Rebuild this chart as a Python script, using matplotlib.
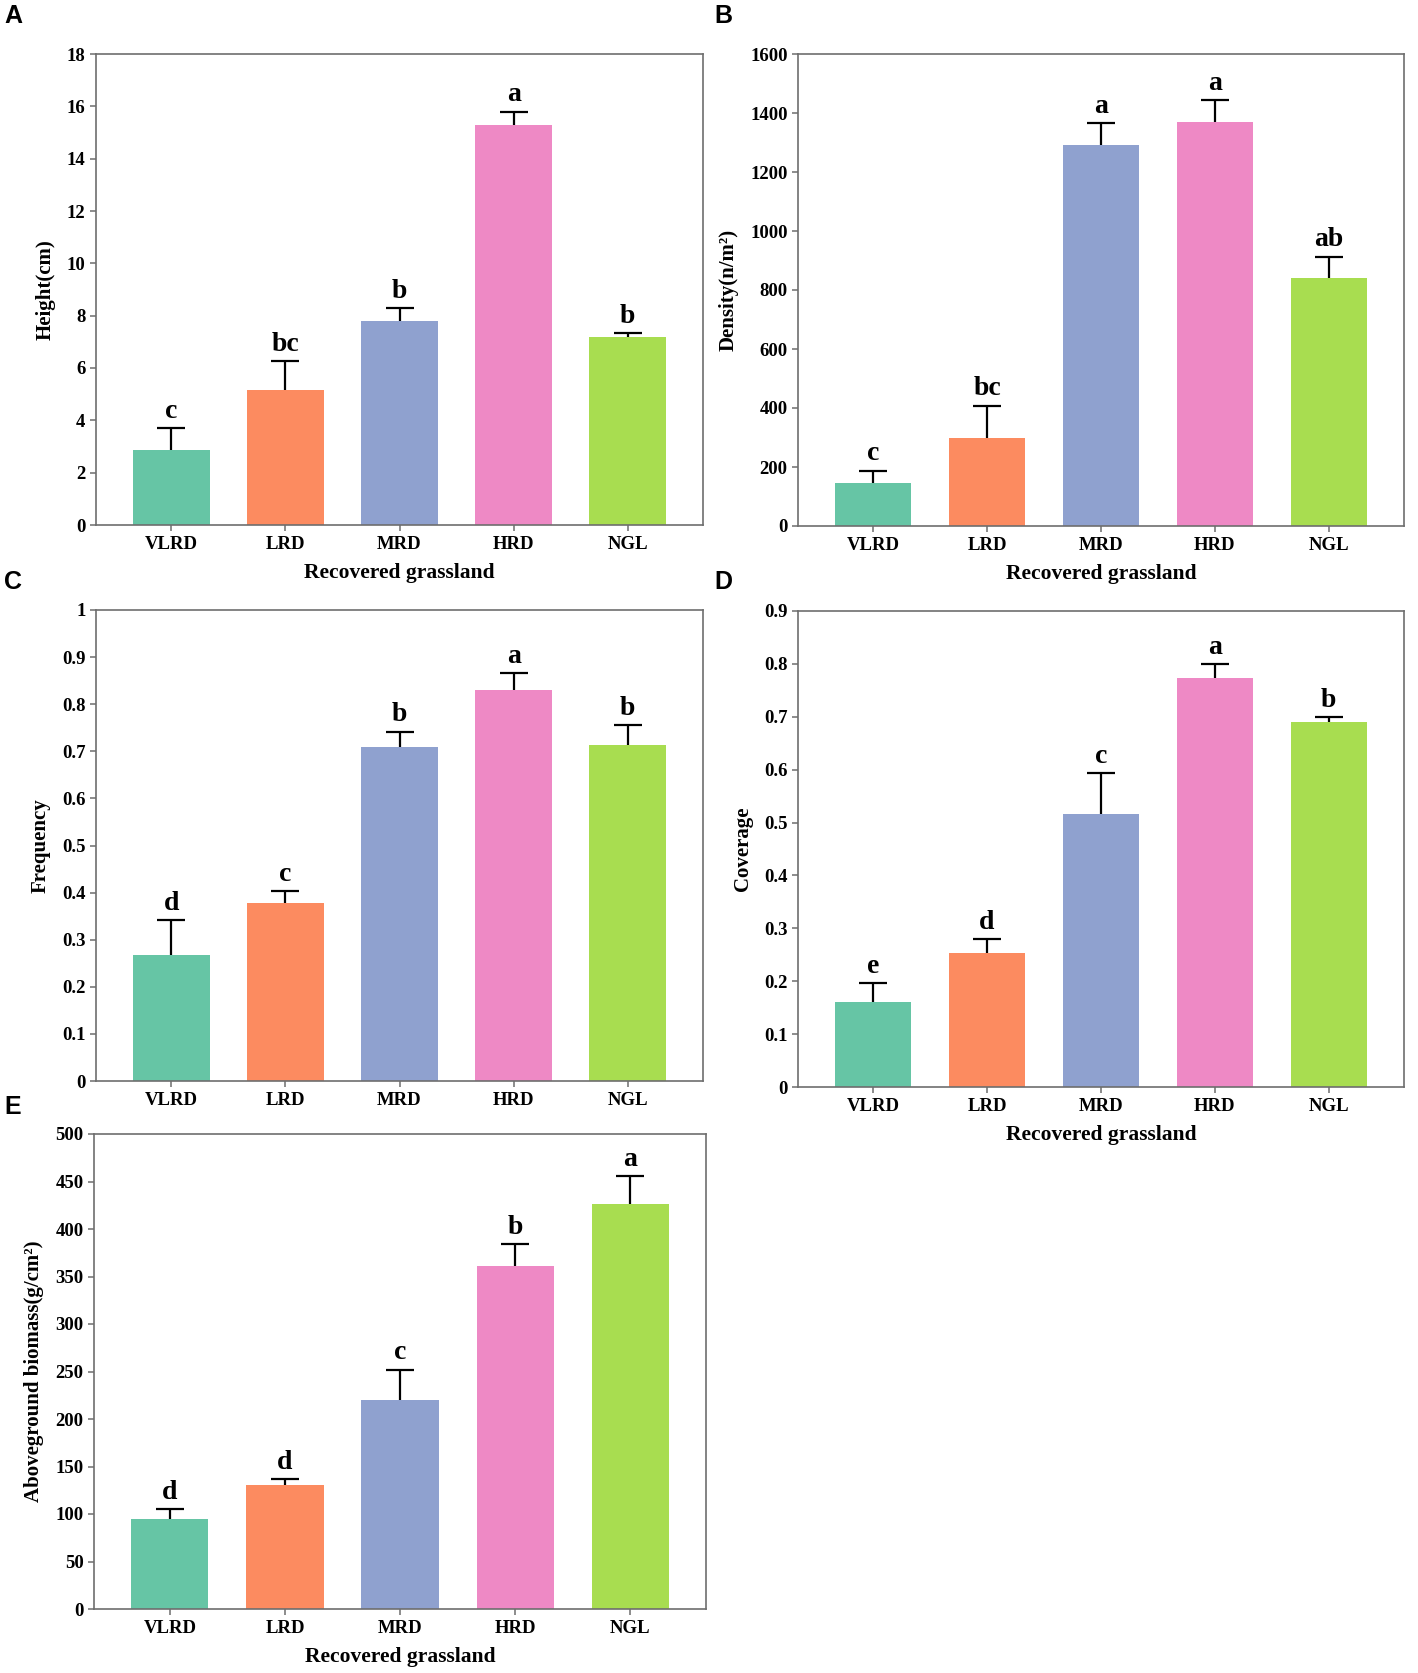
import matplotlib
matplotlib.use("Agg")
import matplotlib.pyplot as plt

groups = ["VLRD", "LRD", "MRD", "HRD", "NGL"]
colors = ["#66c5a5", "#fc8b60", "#8fa1cf", "#ee89c5", "#a8dd50"]

height = [2.85, 5.15, 7.8, 15.3, 7.2]
height_err = [0.85, 1.1, 0.5, 0.5, 0.15]
height_sig = ["c", "bc", "b", "a", "b"]

density = [145, 300, 1290, 1370, 840]
density_err = [43, 108, 75, 75, 73]
density_sig = ["c", "bc", "a", "a", "ab"]

frequency = [0.267, 0.377, 0.710, 0.830, 0.714]
frequency_err = [0.075, 0.026, 0.032, 0.036, 0.041]
frequency_sig = ["d", "c", "b", "a", "b"]

coverage = [0.160, 0.254, 0.516, 0.774, 0.690]
coverage_err = [0.037, 0.026, 0.078, 0.026, 0.010]
coverage_sig = ["e", "d", "c", "a", "b"]

biomass = [95, 131, 220, 361, 426]
biomass_err = [10, 6, 32, 23, 30]
biomass_sig = ["d", "d", "c", "b", "a"]

plt.rcParams["font.family"] = ["Liberation Serif", "DejaVu Serif"]
plt.rcParams["font.weight"] = "bold"

W, H = 1418, 1673
fig = plt.figure(figsize=(W / 100, H / 100), dpi=100)


def add_axes(l, r, t, b):
    return fig.add_axes([l / W, 1 - b / H, (r - l) / W, (b - t) / H])


# letter, axes box (l, r, t, b) px, letter pos px, data...
panels = [
    ("A", (96, 703, 54, 525), (4, 16), height, height_err, height_sig, "Height(cm)", (0, 18), 2, True),
    ("B", (798, 1404, 54, 526), (714, 16), density, density_err, density_sig, "Density(n/m²)", (0, 1600), 200, True),
    ("C", (96, 703, 610, 1081), (4, 582), frequency, frequency_err, frequency_sig, "Frequency", (0, 1.0), 0.1, False),
    ("D", (798, 1404, 611, 1087), (714, 582), coverage, coverage_err, coverage_sig, "Coverage", (0, 0.9), 0.1, True),
    ("E", (94, 706, 1134, 1609), (4, 1107), biomass, biomass_err, biomass_sig, "Aboveground biomass(g/cm²)", (0, 500), 50, True),
]

for letter, box, lpos, vals, errs, sig, ylabel, ylim, step, show_x in panels:
    ax = add_axes(*box)
    x = range(len(groups))
    ax.bar(x, vals, width=0.67, color=colors, zorder=2)
    # upper whisker only
    eb = ax.errorbar(x, vals, yerr=[[0] * len(vals), errs], fmt="none", ecolor="black",
                     elinewidth=1.6, capsize=10, capthick=1.6, zorder=1)
    eb[1][0].set_visible(False)
    for xi, v, e, s in zip(x, vals, errs, sig):
        ax.annotate(s, (xi, v + e), xytext=(0, 3), textcoords="offset points",
                    ha="center", va="bottom", fontsize=20, fontweight="bold")
    ax.set_xlim(-0.66, len(groups) - 0.34)
    ax.set_ylim(*ylim)
    ticks = [i * step for i in range(int(round(ylim[1] / step)) + 1)]
    ax.set_yticks(ticks)
    ax.set_yticklabels(["{:g}".format(round(t, 2)) for t in ticks])
    ax.set_xticks(list(x))
    ax.set_xticklabels(groups)
    for sp in ax.spines.values():
        sp.set_color("#6e6e6e")
        sp.set_linewidth(1.2)
    ax.tick_params(axis="both", labelsize=13.5, color="#6e6e6e", width=1.1, length=4)
    ax.tick_params(axis="x", pad=4)
    ax.set_ylabel(ylabel, fontsize=15, fontweight="bold", labelpad=8)
    if show_x:
        ax.set_xlabel("Recovered grassland", fontsize=15.5, fontweight="bold", labelpad=7)
    fig.text(lpos[0] / W, 1 - lpos[1] / H, letter, fontsize=18,
             fontweight="bold", family="Liberation Sans", va="center", ha="left")

fig.savefig("out.png", dpi=100, facecolor="white")
